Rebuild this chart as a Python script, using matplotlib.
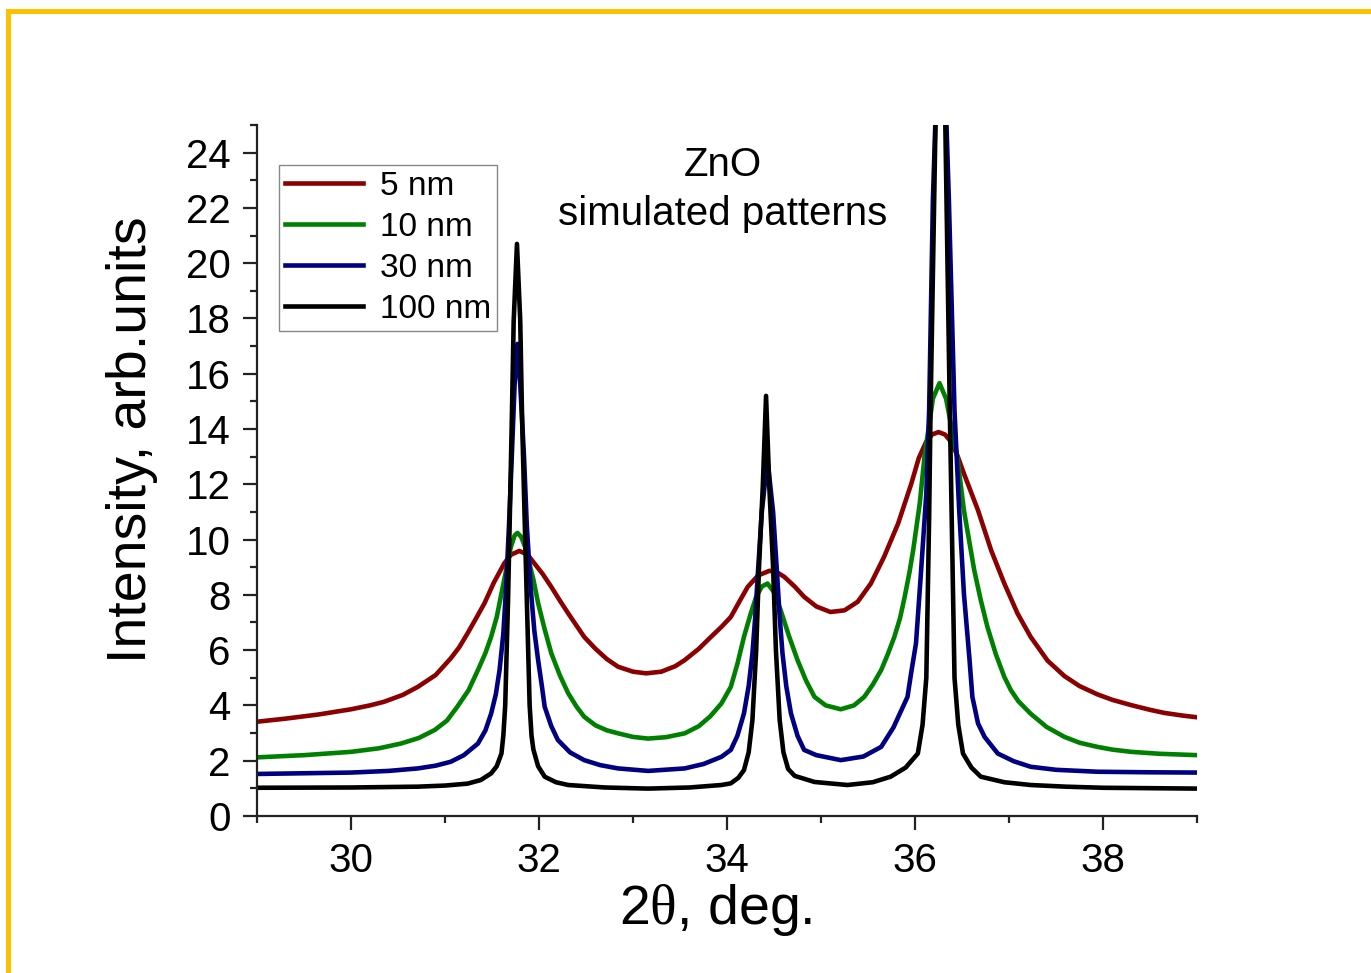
import matplotlib
matplotlib.use("Agg")
from matplotlib import pyplot as plt
from matplotlib.patches import Rectangle
from matplotlib.ticker import MultipleLocator

plt.rcParams['font.family'] = ['Liberation Sans', 'DejaVu Sans']
plt.rcParams['mathtext.fontset'] = 'custom'
plt.rcParams['mathtext.it'] = 'Liberation Serif'
plt.rcParams['mathtext.rm'] = 'Liberation Serif'

# values (2theta, intensity)
x_5nm = [29.0, 29.3, 29.65, 30.0, 30.2, 30.35, 30.55, 30.71, 30.9, 31.06, 31.15, 31.24,
         31.33, 31.42, 31.52, 31.63, 31.70, 31.79, 31.88, 31.95, 32.04, 32.13, 32.22, 32.31,
         32.40, 32.48, 32.6, 32.72, 32.84, 33.0, 33.14, 33.3, 33.45, 33.55, 33.7, 33.82,
         33.94, 34.04, 34.13, 34.22, 34.33, 34.45, 34.53, 34.61, 34.72, 34.82, 34.95, 35.1,
         35.25, 35.39, 35.53, 35.67, 35.82, 35.96, 36.04, 36.12, 36.18, 36.25, 36.32, 36.38,
         36.45, 36.52, 36.67, 36.81, 36.95, 37.09, 37.23, 37.41, 37.59, 37.75, 37.94, 38.1,
         38.30, 38.5, 38.65, 38.85, 39.0]
y_5nm = [3.41, 3.52, 3.67, 3.86, 4.0, 4.13, 4.38, 4.67, 5.1, 5.70, 6.1, 6.61,
         7.15, 7.70, 8.45, 9.14, 9.45, 9.59, 9.45, 9.14, 8.75, 8.29, 7.8, 7.33,
         6.88, 6.48, 6.05, 5.68, 5.40, 5.22, 5.16, 5.22, 5.42, 5.64, 6.05, 6.45,
         6.84, 7.20, 7.75, 8.29, 8.70, 8.87, 8.82, 8.65, 8.3, 7.93, 7.58, 7.38,
         7.44, 7.75, 8.41, 9.37, 10.58, 12.02, 12.95, 13.55, 13.8, 13.89, 13.8, 13.55,
         13.05, 12.39, 11.06, 9.61, 8.41, 7.33, 6.48, 5.62, 5.06, 4.70, 4.40, 4.2,
         4.01, 3.84, 3.73, 3.63, 3.57]

x_10nm = [29.0, 29.5, 30.0, 30.3, 30.53, 30.72, 30.89, 31.02, 31.13, 31.25, 31.35, 31.43,
          31.49, 31.55, 31.60, 31.65, 31.70, 31.74, 31.77, 31.81, 31.85, 31.88, 31.94, 31.99,
          32.06, 32.13, 32.22, 32.31, 32.40, 32.48, 32.6, 32.72, 32.84, 33.0, 33.16, 33.35,
          33.55, 33.7, 33.82, 33.94, 34.04, 34.11, 34.18, 34.25, 34.31, 34.37, 34.43, 34.50,
          34.57, 34.66, 34.75, 34.84, 34.93, 35.05, 35.21, 35.35, 35.46, 35.55, 35.64, 35.71,
          35.78, 35.84, 35.89, 35.94, 35.98, 36.05, 36.10, 36.19, 36.26, 36.33, 36.45, 36.52,
          36.63, 36.70, 36.77, 36.86, 36.95, 37.02, 37.10, 37.23, 37.4, 37.59, 37.75, 37.94,
          38.1, 38.30, 38.6, 39.0]
y_10nm = [2.12, 2.2, 2.32, 2.45, 2.62, 2.82, 3.11, 3.45, 3.95, 4.55, 5.28, 5.9,
          6.48, 7.2, 8.05, 8.9, 9.73, 10.15, 10.24, 10.1, 9.75, 9.37, 8.55, 7.70,
          6.75, 5.89, 5.1, 4.44, 3.95, 3.59, 3.28, 3.1, 2.99, 2.86, 2.80, 2.85,
          2.99, 3.25, 3.6, 4.07, 4.67, 5.5, 6.48, 7.3, 7.93, 8.3, 8.41, 8.1,
          7.45, 6.5, 5.64, 4.9, 4.31, 4.0, 3.86, 4.0, 4.31, 4.75, 5.28, 5.85,
          6.48, 7.15, 7.93, 8.8, 9.61, 11.3, 12.98, 15.1, 15.66, 15.1, 12.98, 11.06,
          8.89, 7.8, 6.84, 5.85, 5.03, 4.55, 4.15, 3.70, 3.22, 2.86, 2.65, 2.50,
          2.4, 2.32, 2.25, 2.20]

x_30nm = [29.0, 30.0, 30.4, 30.71, 30.9, 31.06, 31.2, 31.35, 31.43, 31.49, 31.54, 31.58,
          31.62, 31.65, 31.68, 31.71, 31.74, 31.77, 31.80, 31.84, 31.87, 31.91, 31.95, 31.99,
          32.03, 32.06, 32.13, 32.20, 32.33, 32.48, 32.65, 32.84, 33.16, 33.55, 33.75, 33.94,
          34.04, 34.11, 34.18, 34.23, 34.27, 34.30, 34.33, 34.37, 34.43, 34.49, 34.53, 34.56,
          34.59, 34.63, 34.68, 34.75, 34.82, 34.95, 35.21, 35.45, 35.64, 35.77, 35.92, 35.96,
          36.01, 36.06, 36.12, 36.15, 36.19, 36.22, 36.27, 36.33, 36.36, 36.42, 36.47, 36.52,
          36.58, 36.61, 36.67, 36.74, 36.88, 37.05, 37.23, 37.5, 37.94, 38.5, 39.0]
y_30nm = [1.52, 1.57, 1.63, 1.72, 1.82, 1.96, 2.2, 2.62, 3.1, 3.70, 4.4, 5.28,
          6.6, 8.29, 10.5, 13.0, 15.6, 17.08, 15.6, 13.0, 10.5, 8.29, 6.7, 5.64,
          4.7, 3.95, 3.25, 2.75, 2.3, 2.02, 1.84, 1.72, 1.63, 1.72, 1.88, 2.14,
          2.39, 2.9, 3.71, 4.7, 5.88, 7.2, 8.89, 11.0, 12.9, 11.0, 8.89, 7.2,
          5.88, 4.7, 3.71, 2.9, 2.39, 2.2, 2.02, 2.15, 2.50, 3.2, 4.31, 5.2,
          6.24, 8.65, 11.66, 14.67, 22.3, 25.5, 29.0, 25.5, 22.3, 14.67, 11.06, 8.05,
          5.64, 4.31, 3.35, 2.86, 2.26, 1.98, 1.78, 1.67, 1.60, 1.58, 1.57]

x_100nm = [29.0, 30.0, 30.71, 31.0, 31.24, 31.38, 31.49, 31.55, 31.60, 31.62, 31.64, 31.67,
           31.69, 31.71, 31.73, 31.765, 31.80, 31.82, 31.845, 31.87, 31.90, 31.92, 31.94, 31.99,
           32.06, 32.18, 32.31, 32.7, 33.16, 33.6, 33.94, 34.04, 34.12, 34.18, 34.23, 34.27,
           34.31, 34.34, 34.38, 34.415, 34.45, 34.49, 34.52, 34.56, 34.60, 34.65, 34.72, 34.93,
           35.28, 35.55, 35.74, 35.90, 36.03, 36.08, 36.12, 36.15, 36.165, 36.22, 36.27, 36.32,
           36.37, 36.39, 36.42, 36.46, 36.51, 36.60, 36.70, 36.95, 37.23, 37.6, 38.0, 39.0]
y_100nm = [1.02, 1.03, 1.06, 1.1, 1.17, 1.3, 1.54, 1.8, 2.26, 2.9, 4.0, 7.8,
           11.0, 14.3, 17.9, 20.7, 17.9, 14.3, 11.0, 7.8, 4.0, 2.9, 2.4, 1.8,
           1.42, 1.22, 1.12, 1.03, 0.99, 1.03, 1.12, 1.18, 1.38, 1.66, 2.3, 3.47,
           6.0, 9.0, 11.9, 15.2, 11.9, 9.0, 6.0, 3.47, 2.3, 1.7, 1.45, 1.23,
           1.12, 1.22, 1.42, 1.75, 2.26, 3.3, 5.0, 10.8, 14.67, 25.5, 36.0, 25.5,
           14.67, 10.8, 5.0, 3.3, 2.26, 1.75, 1.42, 1.22, 1.12, 1.06, 1.02, 0.99]

labels = ['5 nm', '10 nm', '30 nm', '100 nm']
colors = ['#8B0000', '#008000', '#000080', '#000000']

fig = plt.figure(figsize=(13.71, 9.73), dpi=100)
ax = fig.add_axes([0.1875, 0.1614, 0.6856, 0.7101])

series = [(x_5nm, y_5nm), (x_10nm, y_10nm), (x_30nm, y_30nm), (x_100nm, y_100nm)]
for (xs, ys), lab, c in zip(series, labels, colors):
    ax.plot(xs, ys, color=c, lw=3.3, label=lab, solid_joinstyle='round')

ax.set_xlim(29, 39)
ax.set_ylim(0, 25)
ax.xaxis.set_minor_locator(MultipleLocator(1))
ax.yaxis.set_major_locator(MultipleLocator(2))
ax.yaxis.set_minor_locator(MultipleLocator(1))
ax.set_xticks([30, 32, 34, 36, 38])

for s in ['top', 'right']:
    ax.spines[s].set_visible(False)
for s in ['left', 'bottom']:
    ax.spines[s].set_linewidth(1.6)
    ax.spines[s].set_color('#222222')

ax.tick_params(which='major', direction='out', length=10, width=1.6, labelsize=29, pad=9, color='#222222')
ax.tick_params(which='minor', direction='out', length=5, width=1.6, color='#222222')

ax.set_xlabel(r'2$\theta$, deg.', fontsize=40)
ax.set_ylabel('Intensity, arb.units', fontsize=40)
ax.xaxis.set_label_coords(0.488, -0.095)
ax.yaxis.set_label_coords(-0.105, 0.544)

leg = ax.legend(loc='upper left', bbox_to_anchor=(0.0234, 0.942), borderaxespad=0,
                fontsize=24, handlelength=2.35, handletextpad=0.5, labelspacing=0.3,
                borderpad=0.18, fancybox=False, framealpha=1, edgecolor='#888888')
leg.get_frame().set_linewidth(1.0)
for h in leg.get_lines():
    h.set_linewidth(3.3)

ax.text(0.495, 0.942, 'ZnO', transform=ax.transAxes, ha='center', va='center', fontsize=29)
ax.text(0.495, 0.871, 'simulated patterns', transform=ax.transAxes, ha='center', va='center', fontsize=29)

# yellow frame round the picture
fig.patches.append(Rectangle((8 / 1371, -0.1), 2.0, 1.1 - 11.5 / 973, transform=fig.transFigure,
                             fill=False, edgecolor='#FFC000', lw=3.6))

fig.savefig('out.png', dpi=100)
